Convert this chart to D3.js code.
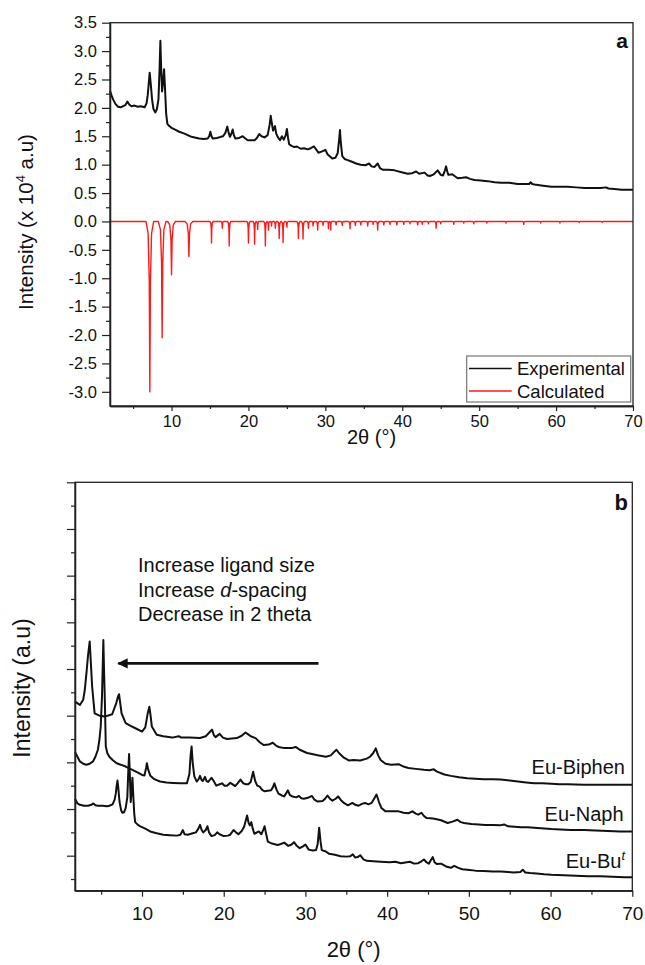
<!DOCTYPE html>
<html>
<head>
<meta charset="utf-8">
<script src="https://cdn.jsdelivr.net/npm/d3@7"></script>
<style>
  body { margin: 0; background: #fff; }
  svg text { font-family: "Liberation Sans", Arial, sans-serif; fill: #111; }
</style>
</head>
<body>
<svg id="chart" width="645" height="965"></svg>
<script>
// ---- panel a : experimental pattern (2theta, intensity x 10^4)
var expA = [[2.0,2.30],[2.2,2.22],[2.4,2.15],[2.7,2.07],[3.05,2.02],[3.4,2.01],[3.7,2.03],[4.0,2.05],[4.26,2.11],[4.5,2.06],[4.78,2.03],[5.2,2.04],[5.6,2.02],[6.0,2.03],[6.5,2.01],[6.75,2.08],[6.9,2.22],[7.05,2.45],[7.16,2.62],[7.3,2.42],[7.47,2.15],[7.65,1.98],[7.9,1.92],[8.1,1.98],[8.3,2.15],[8.45,2.7],[8.55,3.18],[8.65,2.7],[8.77,2.29],[8.9,2.45],[9.03,2.68],[9.15,2.35],[9.3,1.9],[9.46,1.72],[9.7,1.68],[10.0,1.65],[10.4,1.62],[11.0,1.58],[11.6,1.55],[12.1,1.52],[12.6,1.49],[13.0,1.48],[13.6,1.46],[14.2,1.45],[14.7,1.46],[14.9,1.5],[15.05,1.58],[15.2,1.5],[15.35,1.46],[15.9,1.47],[16.4,1.49],[16.7,1.5],[17.0,1.56],[17.25,1.67],[17.45,1.55],[17.6,1.49],[17.8,1.55],[17.95,1.62],[18.1,1.52],[18.3,1.46],[18.8,1.47],[19.25,1.5],[19.6,1.46],[19.9,1.43],[20.4,1.43],[20.8,1.43],[21.1,1.47],[21.4,1.54],[21.7,1.5],[22.1,1.48],[22.5,1.52],[22.75,1.7],[22.9,1.86],[23.05,1.72],[23.2,1.6],[23.45,1.68],[23.6,1.55],[23.8,1.49],[24.1,1.43],[24.35,1.5],[24.6,1.44],[24.85,1.52],[25.0,1.63],[25.15,1.47],[25.3,1.36],[25.6,1.33],[25.95,1.31],[26.3,1.32],[26.8,1.28],[27.25,1.29],[27.7,1.27],[28.1,1.29],[28.5,1.32],[28.8,1.27],[29.1,1.21],[29.5,1.23],[30.0,1.26],[30.3,1.18],[30.9,1.11],[31.3,1.12],[31.6,1.2],[31.8,1.45],[31.9,1.61],[32.0,1.4],[32.2,1.15],[32.5,1.1],[32.9,1.08],[33.3,1.06],[34.0,1.02],[34.6,1.0],[35.2,0.99],[35.7,1.02],[36.0,0.97],[36.4,0.96],[36.8,1.02],[37.1,0.94],[37.5,0.91],[38.2,0.91],[39.0,0.90],[39.8,0.87],[40.7,0.84],[41.3,0.85],[41.8,0.88],[42.2,0.84],[42.9,0.86],[43.3,0.81],[43.6,0.80],[44.1,0.83],[44.6,0.90],[45.0,0.82],[45.3,0.81],[45.55,0.9],[45.7,0.97],[45.85,0.88],[46.0,0.82],[46.5,0.83],[47.2,0.76],[47.8,0.77],[48.3,0.78],[48.8,0.75],[49.4,0.73],[50.2,0.72],[51.1,0.71],[52.0,0.69],[52.85,0.68],[53.9,0.68],[55.0,0.66],[56.0,0.66],[56.5,0.66],[56.7,0.69],[56.9,0.66],[57.2,0.65],[58.3,0.63],[59.4,0.61],[60.5,0.61],[61.5,0.61],[62.6,0.60],[63.7,0.59],[64.8,0.59],[65.8,0.59],[66.5,0.60],[66.8,0.58],[67.6,0.57],[68.5,0.56],[69.3,0.56],[70.0,0.56]];

// ---- panel a : calculated pattern, peak positions and depths (drawn downward)
var calcPos = [7.18,8.78,10.0,12.26,15.2,16.6,17.5,20.0,20.8,21.2,22.2,22.6,23.0,23.5,24.0,24.5,25.0,26.5,27.1,27.8,28.4,29.0,29.7,30.4,30.7,31.4,32.2,33.2,33.9,34.6,35.5,36.2,36.8,37.6,38.4,39.3,40.2,41.0,42.0,42.6,43.4,44.4,45.0,46.7,48.0,49.3,51.0,53.5,55.8,58.0,60.5,63.0,66.0];
var calcDepth = [3.0,2.05,0.94,0.62,0.38,0.12,0.43,0.38,0.40,0.14,0.43,0.15,0.08,0.12,0.30,0.37,0.10,0.30,0.31,0.12,0.08,0.15,0.07,0.13,0.15,0.06,0.07,0.13,0.07,0.06,0.08,0.05,0.15,0.06,0.05,0.06,0.05,0.04,0.06,0.05,0.04,0.12,0.04,0.05,0.03,0.04,0.03,0.03,0.05,0.03,0.03,0.02,0.02];

// ---- panel b : stacked patterns (arbitrary offset units)
var euBiphen = [[1.8,3.30],[2.4,3.23],[2.8,3.34],[3.0,3.55],[3.2,3.91],[3.4,4.3],[3.6,4.59],[3.75,4.1],[3.9,3.62],[4.2,3.05],[4.8,3.0],[5.45,2.98],[6.35,3.03],[6.85,3.27],[7.05,3.4],[7.19,3.46],[7.35,3.25],[7.5,3.05],[8.0,2.84],[8.6,2.78],[9.2,2.73],[10.0,2.66],[10.4,2.75],[10.7,3.05],[10.9,3.19],[11.05,3.0],[11.2,2.77],[11.8,2.59],[12.6,2.56],[13.7,2.53],[14.5,2.56],[14.8,2.53],[15.8,2.53],[17.1,2.52],[17.8,2.56],[18.3,2.65],[18.57,2.70],[18.8,2.58],[19.0,2.54],[19.5,2.61],[19.9,2.53],[20.4,2.50],[21.0,2.51],[21.6,2.52],[22.2,2.57],[22.66,2.64],[23.0,2.6],[23.3,2.56],[23.9,2.52],[24.4,2.43],[24.9,2.37],[25.5,2.38],[26.0,2.42],[26.4,2.36],[26.7,2.33],[27.3,2.31],[27.9,2.31],[28.4,2.31],[28.8,2.33],[29.3,2.27],[30.2,2.20],[30.8,2.18],[31.5,2.15],[32.5,2.12],[33.1,2.15],[33.5,2.22],[33.8,2.27],[34.1,2.2],[34.7,2.1],[35.3,2.04],[35.9,2.05],[36.7,2.04],[37.5,2.08],[37.9,2.12],[38.3,2.2],[38.6,2.30],[38.9,2.15],[39.2,2.05],[39.8,1.97],[40.5,1.95],[41.4,1.96],[42.0,1.91],[42.6,1.88],[43.5,1.86],[44.5,1.84],[45.2,1.83],[45.7,1.85],[46.1,1.80],[47.0,1.74],[47.8,1.71],[48.8,1.68],[49.8,1.66],[50.8,1.65],[51.8,1.64],[52.9,1.64],[53.9,1.63],[55.0,1.61],[56.0,1.59],[57.0,1.57],[58.0,1.55],[59.0,1.55],[60.1,1.54],[61.1,1.53],[62.1,1.53],[64.1,1.52],[66.2,1.52],[68.1,1.52],[70.0,1.52]];

var euNaph = [[1.8,2.22],[2.4,2.02],[2.8,1.97],[3.2,1.95],[3.6,1.97],[4.0,2.02],[4.3,2.12],[4.6,2.27],[4.8,2.5],[4.95,2.77],[5.1,3.4],[5.2,4.1],[5.27,4.62],[5.35,4.0],[5.45,3.34],[5.57,2.34],[5.75,2.2],[6.0,2.12],[6.4,2.05],[6.9,1.98],[7.4,1.95],[8.0,1.91],[8.7,1.85],[9.5,1.78],[10.0,1.73],[10.3,1.72],[10.5,1.88],[10.6,1.98],[10.75,1.85],[11.0,1.72],[11.5,1.64],[12.2,1.59],[13.0,1.57],[13.8,1.56],[14.7,1.55],[15.5,1.55],[15.8,1.75],[15.95,2.15],[16.07,2.34],[16.2,2.0],[16.4,1.7],[16.7,1.59],[16.9,1.63],[17.1,1.71],[17.3,1.62],[17.45,1.6],[17.7,1.69],[17.9,1.6],[18.1,1.58],[18.5,1.67],[18.7,1.62],[19.1,1.5],[19.5,1.53],[19.8,1.55],[20.1,1.5],[20.4,1.5],[20.8,1.56],[21.0,1.54],[21.4,1.49],[21.7,1.55],[22.05,1.63],[22.4,1.55],[22.7,1.53],[23.0,1.53],[23.3,1.58],[23.6,1.80],[23.85,1.6],[24.1,1.5],[24.4,1.48],[24.7,1.41],[25.0,1.38],[25.4,1.39],[25.8,1.40],[26.0,1.46],[26.2,1.55],[26.45,1.42],[26.7,1.33],[27.1,1.29],[27.4,1.27],[27.65,1.34],[27.85,1.40],[28.1,1.3],[28.4,1.27],[28.9,1.25],[29.2,1.28],[29.5,1.23],[29.8,1.22],[30.3,1.24],[30.8,1.28],[31.1,1.2],[31.5,1.16],[32.1,1.17],[32.4,1.22],[32.7,1.29],[33.0,1.22],[33.3,1.18],[33.7,1.22],[34.0,1.27],[34.3,1.2],[34.7,1.13],[35.2,1.08],[35.75,1.13],[36.1,1.09],[36.5,1.07],[36.9,1.11],[37.3,1.13],[37.7,1.1],[38.1,1.13],[38.4,1.22],[38.7,1.31],[39.0,1.15],[39.3,1.02],[39.8,0.95],[40.5,0.95],[41.4,0.95],[42.0,0.92],[42.6,0.91],[43.1,0.95],[43.5,0.9],[43.8,0.88],[44.2,0.92],[44.5,0.85],[44.8,0.81],[45.3,0.80],[45.8,0.79],[46.6,0.76],[47.4,0.70],[48.0,0.73],[48.6,0.77],[49.0,0.72],[49.4,0.70],[50.3,0.68],[51.2,0.67],[52.0,0.66],[53.0,0.66],[53.8,0.65],[54.3,0.67],[54.8,0.63],[55.6,0.62],[56.4,0.61],[57.2,0.61],[58.0,0.60],[58.8,0.59],[60.1,0.57],[61.2,0.56],[62.5,0.55],[64.1,0.55],[65.5,0.54],[67.0,0.53],[68.5,0.52],[70.0,0.52]];

var euBut = [[1.8,1.22],[2.1,1.12],[2.4,1.09],[2.9,1.07],[3.4,1.07],[3.8,1.09],[4.05,1.12],[4.3,1.08],[4.6,1.07],[5.2,1.07],[5.7,1.06],[6.0,1.07],[6.4,1.1],[6.65,1.2],[6.8,1.34],[6.9,1.5],[7.0,1.61],[7.1,1.45],[7.25,1.15],[7.45,0.97],[7.6,0.92],[7.8,0.93],[8.0,1.02],[8.2,1.25],[8.32,1.8],[8.42,2.18],[8.52,1.7],[8.62,1.15],[8.72,1.35],[8.83,1.67],[8.93,1.3],[9.05,0.9],[9.16,0.72],[9.5,0.66],[9.8,0.63],[10.4,0.58],[11.0,0.52],[11.8,0.48],[12.6,0.45],[13.4,0.44],[14.3,0.43],[14.7,0.45],[15.0,0.55],[15.2,0.46],[15.6,0.45],[16.2,0.48],[16.6,0.5],[16.9,0.58],[17.1,0.66],[17.3,0.55],[17.5,0.5],[17.8,0.55],[18.0,0.63],[18.2,0.5],[18.5,0.42],[18.9,0.44],[19.2,0.5],[19.5,0.46],[20.0,0.42],[20.5,0.43],[20.8,0.45],[21.2,0.55],[21.5,0.5],[21.8,0.46],[22.2,0.53],[22.5,0.62],[22.86,0.86],[23.05,0.7],[23.2,0.65],[23.38,0.72],[23.55,0.58],[23.75,0.47],[24.3,0.52],[24.6,0.46],[24.85,0.56],[25.0,0.63],[25.15,0.5],[25.4,0.30],[25.9,0.26],[26.6,0.23],[27.0,0.25],[27.4,0.28],[27.9,0.21],[28.3,0.24],[28.6,0.29],[28.9,0.22],[29.3,0.16],[29.7,0.2],[30.0,0.24],[30.4,0.13],[30.9,0.11],[31.3,0.12],[31.5,0.25],[31.68,0.60],[31.85,0.3],[32.0,0.12],[32.5,0.09],[32.9,0.04],[33.6,0.02],[34.3,-0.01],[35.0,-0.02],[35.5,-0.01],[35.8,0.03],[36.1,-0.04],[36.4,-0.03],[36.7,0.01],[37.1,-0.08],[37.5,-0.11],[38.3,-0.12],[39.2,-0.13],[40.3,-0.14],[41.0,-0.13],[41.7,-0.16],[42.4,-0.14],[42.8,-0.13],[43.3,-0.17],[43.8,-0.16],[44.2,-0.12],[44.5,-0.08],[44.8,-0.14],[45.1,-0.17],[45.4,-0.08],[45.58,-0.03],[45.8,-0.14],[46.1,-0.18],[46.6,-0.17],[47.2,-0.23],[47.8,-0.26],[48.2,-0.22],[48.7,-0.26],[49.2,-0.29],[49.8,-0.30],[50.8,-0.32],[51.8,-0.33],[52.9,-0.34],[53.9,-0.34],[54.8,-0.35],[55.5,-0.36],[56.3,-0.35],[56.6,-0.30],[56.9,-0.36],[57.5,-0.37],[58.3,-0.38],[59.2,-0.40],[60.1,-0.41],[61.6,-0.42],[63.1,-0.43],[64.6,-0.44],[66.1,-0.44],[67.6,-0.45],[69.0,-0.46],[70.0,-0.46]];

var xTicks = [10,20,30,40,50,60,70];
var xMinor = [5,15,25,35,45,55,65];
var yTicksA = [-3.0,-2.5,-2.0,-1.5,-1.0,-0.5,0.0,0.5,1.0,1.5,2.0,2.5,3.0,3.5];
var yTicksB = [0,1,2,3,4,5,6,7,8];
var legendNames = ['Experimental','Calculated'];
var legendColors = ['#111','#ff1a1a'];
var noteLines = ['Increase ligand size','Increase d-spacing','Decrease in 2 theta'];

var svg = d3.select('#chart');
var boxA = {left:110,right:633,top:22.7,bottom:406};
var boxB = {left:75,right:632.3,top:482.3,bottom:890.7};

function frame(box){
	svg.append('rect')
		.attr('x',box.left).attr('y',box.top)
		.attr('width',box.right-box.left).attr('height',box.bottom-box.top)
		.attr('fill','none').attr('stroke','#222').attr('stroke-width',1.3);
}

function styleAxis(g){
	g.select('.domain').attr('stroke','#222').attr('stroke-width',1.3);
	g.selectAll('.tick line').attr('stroke','#222').attr('stroke-width',1.2);
	g.selectAll('.tick text').attr('fill','#111').attr('font-family','"Liberation Sans", Arial, sans-serif');
}

// plain hyphen for negatives, like the original software
var fmt1 = v => d3.format('.1f')(v).replace('\u2212','-');

// ================= panel a =================
var xa = d3.scaleLinear().domain([2,70]).range([boxA.left,boxA.right]);
var ya = d3.scaleLinear().domain([-3.25,3.5]).range([boxA.bottom,boxA.top]);

var line_a = d3.line().x(d => xa(d[0])).y(d => ya(d[1]));

// calculated: each reflection drawn as a narrow dip below the zero line
var calcPts = [[2,0]];
calcPos.forEach((p,i) => {
	var d = calcDepth[i];
	var gapL = i > 0 ? p - calcPos[i-1] : 5;
	var gapR = i < calcPos.length-1 ? calcPos[i+1] - p : 5;
	var w = Math.min(d > 0.5 ? 0.5 : 0.22, Math.min(gapL,gapR)/2);
	calcPts.push([p-w,0],[p-0.45*w,-0.07*d],[p-0.15*w,-0.35*d],[p,-d],
		[p+0.15*w,-0.35*d],[p+0.45*w,-0.07*d],[p+w,0]);
});
calcPts.push([70,0]);

svg.append('path').datum(calcPts)
	.attr('d',line_a).attr('fill','none')
	.attr('stroke','#ff1a1a').attr('stroke-width',1.4).attr('stroke-linejoin','round');

svg.append('path').datum(expA)
	.attr('d',line_a).attr('fill','none')
	.attr('stroke','#111').attr('stroke-width',2).attr('stroke-linejoin','round');

frame(boxA);

var gxa = svg.append('g').attr('transform',`translate(0,${boxA.bottom})`)
	.call(d3.axisBottom(xa).tickValues(xTicks).tickSize(5).tickPadding(4).tickSizeOuter(0).tickFormat(d3.format('d')));
gxa.selectAll('.tick text').attr('font-size',16.5);
styleAxis(gxa);
var gxa2 = svg.append('g').attr('transform',`translate(0,${boxA.bottom})`)
	.call(d3.axisBottom(xa).tickValues(xMinor).tickSize(3).tickFormat('').tickSizeOuter(0));
styleAxis(gxa2);

var gya = svg.append('g').attr('transform',`translate(${boxA.left},0)`)
	.call(d3.axisLeft(ya).tickValues(yTicksA).tickSize(8).tickPadding(5).tickSizeOuter(0).tickFormat(fmt1));
gya.selectAll('.tick text').attr('font-size',16.5);
styleAxis(gya);
var gya2 = svg.append('g').attr('transform',`translate(${boxA.left},0)`)
	.call(d3.axisLeft(ya).tickValues(yTicksA.slice(0,-1).map(v => v+0.25)).tickSize(4).tickFormat('').tickSizeOuter(0));
styleAxis(gya2);

svg.append('text').attr('x',(boxA.left+boxA.right)/2).attr('y',444)
	.attr('text-anchor','middle').attr('font-size',20).text('2θ (°)');

var yta = svg.append('text').attr('transform','translate(33,222) rotate(-90)')
	.attr('text-anchor','middle').attr('font-size',20.5);
yta.append('tspan').text('Intensity (x 10');
yta.append('tspan').attr('dy',-8).attr('font-size',13).text('4');
yta.append('tspan').attr('dy',8).text(' a.u)');

svg.append('text').attr('x',628).attr('y',48).attr('text-anchor','end')
	.attr('font-size',21).attr('font-weight','bold').text('a');

// legend
var leg = svg.append('g');
leg.append('rect').attr('x',466.7).attr('y',356).attr('width',164).attr('height',46)
	.attr('fill','#fff').attr('stroke','#777').attr('stroke-width',1.2);
legendNames.forEach((n,i) => {
	leg.append('line').attr('x1',469).attr('x2',511.7)
		.attr('y1',368.5+i*22.5).attr('y2',368.5+i*22.5)
		.attr('stroke',legendColors[i]).attr('stroke-width',1.6);
	leg.append('text').attr('x',517).attr('y',375+i*22.5)
		.attr('font-size',18.5).text(n);
});

// ================= panel b =================
var xb = d3.scaleLinear().domain([1.8,70]).range([boxB.left,boxB.right]);
var yb = d3.scaleLinear().domain([-0.75,8]).range([boxB.bottom,boxB.top]);
var line_b = d3.line().x(d => xb(d[0])).y(d => yb(d[1]));

[euBiphen,euNaph,euBut].forEach(s => {
	svg.append('path').datum(s)
		.attr('d',line_b).attr('fill','none')
		.attr('stroke','#111').attr('stroke-width',2).attr('stroke-linejoin','round');
});

frame(boxB);

var gxb = svg.append('g').attr('transform',`translate(0,${boxB.bottom})`)
	.call(d3.axisBottom(xb).tickValues(xTicks).tickSize(6).tickPadding(10).tickSizeOuter(0).tickFormat(d3.format('d')));
gxb.selectAll('.tick text').attr('font-size',19);
styleAxis(gxb);
var gxb2 = svg.append('g').attr('transform',`translate(0,${boxB.bottom})`)
	.call(d3.axisBottom(xb).tickValues(xMinor).tickSize(4).tickFormat('').tickSizeOuter(0));
styleAxis(gxb2);

var gyb = svg.append('g').attr('transform',`translate(${boxB.left},0)`)
	.call(d3.axisLeft(yb).tickValues(yTicksB).tickSize(8).tickFormat('').tickSizeOuter(0));
styleAxis(gyb);
var gyb2 = svg.append('g').attr('transform',`translate(${boxB.left},0)`)
	.call(d3.axisLeft(yb).tickValues(yTicksB.map(v => v-0.5)).tickSize(4).tickFormat('').tickSizeOuter(0));
styleAxis(gyb2);

svg.append('text').attr('x',(boxB.left+boxB.right)/2).attr('y',957)
	.attr('text-anchor','middle').attr('font-size',22).text('2θ (°)');

svg.append('text').attr('transform','translate(30,688) rotate(-90)')
	.attr('text-anchor','middle').attr('font-size',23).text('Intensity (a.u)');

svg.append('text').attr('x',628).attr('y',510).attr('text-anchor','end')
	.attr('font-size',22).attr('font-weight','bold').text('b');

// annotation text
noteLines.forEach((t,i) => {
	var tx = svg.append('text').attr('x',138).attr('y',572+i*24.5).attr('font-size',20);
	if (t.indexOf('d-') >= 0) {
		tx.append('tspan').text('Increase ');
		tx.append('tspan').attr('font-style','italic').text('d');
		tx.append('tspan').text('-spacing');
	} else {
		tx.text(t);
	}
});

// arrow pointing to lower 2 theta
svg.append('defs').append('marker')
	.attr('id','head').attr('viewBox','0 0 10 10').attr('refX',9).attr('refY',5)
	.attr('markerWidth',7).attr('markerHeight',4).attr('orient','auto')
	.attr('markerUnits','strokeWidth')
	.append('path').attr('d','M0,0L10,5L0,10z').attr('fill','#111');
svg.append('line')
	.attr('x1',xb(31.6)).attr('y1',yb(4.12)).attr('x2',xb(7.1)).attr('y2',yb(4.12))
	.attr('stroke','#111').attr('stroke-width',2.6).attr('marker-end','url(#head)');

// sample labels
svg.append('text').attr('x',625).attr('y',774).attr('text-anchor','end').attr('font-size',20).text('Eu-Biphen');
svg.append('text').attr('x',623.5).attr('y',821).attr('text-anchor','end').attr('font-size',20).text('Eu-Naph');
var lb = svg.append('text').attr('x',625).attr('y',868).attr('text-anchor','end').attr('font-size',20);
lb.append('tspan').text('Eu-Bu');
lb.append('tspan').attr('dy',-8).attr('font-size',13).attr('font-style','italic').text('t');
</script>
</body>
</html>
